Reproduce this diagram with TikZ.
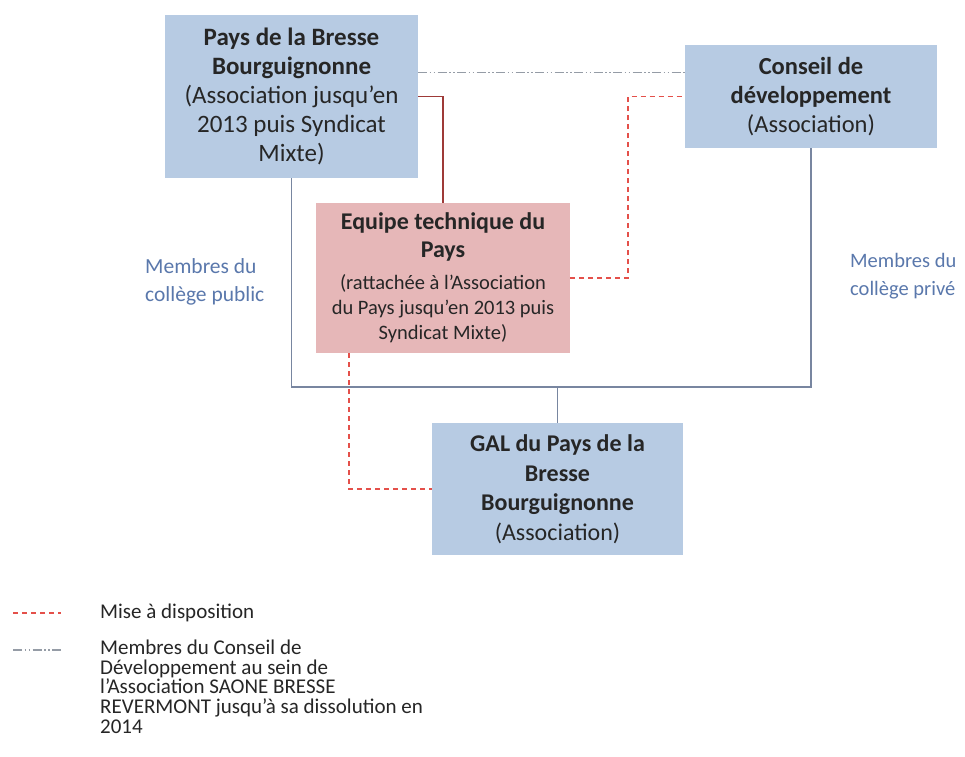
\documentclass[tikz,border=0pt]{standalone}
\usepackage{fontspec}
\setmainfont{Carlito}
\usetikzlibrary{calc}
\definecolor{boxblue}{HTML}{B7CBE3}
\definecolor{boxpink}{HTML}{E6B7B8}
\definecolor{txtdark}{HTML}{262626}
\definecolor{lblblue}{HTML}{5A78AC}
\definecolor{busgray}{HTML}{7886A0}
\definecolor{darkred}{HTML}{9E3A38}
\definecolor{dashred}{HTML}{E4504A}
\definecolor{ddgray}{HTML}{959CA6}
\tikzset{
  bluebox/.style={fill=boxblue, draw=none, inner sep=0pt, align=center, text=txtdark},
  pinkbox/.style={fill=boxpink, draw=none, inner sep=0pt, align=center, text=txtdark},
  busline/.style={draw=busgray, line width=1.4pt},
  redline/.style={draw=darkred, line width=1.4pt},
  reddash/.style={draw=dashred, line width=1.8pt, dash pattern=on 5pt off 4pt},
  ddline/.style={draw=ddgray, line width=1.4pt, dash pattern=on 9pt off 2.5pt on 1.5pt off 2.5pt on 1.5pt off 2.5pt},
  sidelabel/.style={anchor=west, align=left, text=lblblue, inner sep=0pt,
     font=\fontsize{21.5pt}{28.5pt}\selectfont},
  legtext/.style={anchor=west, align=left, text=txtdark, inner sep=0pt,
     font=\fontsize{21pt}{19.6pt}\selectfont}
}
\begin{document}
\begin{tikzpicture}[x=1pt,y=-1pt]
\fill[white] (0,0) rectangle (965,756);
\useasboundingbox (0,0) rectangle (965,756);

\node[bluebox, minimum width=253pt, minimum height=163pt,
      font=\fontsize{25pt}{29pt}\selectfont] (pays) at (291.5,96.5)
  {\textbf{Pays de la Bresse}\\ \textbf{Bourguignonne}\\ (Association jusqu'en\\ 2013 puis Syndicat\\ Mixte)};
\node[bluebox, minimum width=252pt, minimum height=103pt,
      font=\fontsize{24.5pt}{29pt}\selectfont] (conseil) at (811,96.5)
  {\textbf{Conseil de}\\ \textbf{développement}\\ (Association)};
\node[pinkbox, minimum width=254pt, minimum height=150pt,
      font=\fontsize{20.5pt}{25pt}\selectfont] (equipe) at (443,278)
  {{\fontsize{24pt}{28pt}\selectfont\bfseries Equipe technique du}\\[3pt]
   {\fontsize{24pt}{28pt}\selectfont\bfseries Pays}\\[7pt]
   (rattachée à l'Association\\
   du Pays jusqu'en 2013 puis\\
   Syndicat Mixte)};
\node[bluebox, minimum width=251pt, minimum height=132pt,
      font=\fontsize{24pt}{29.5pt}\selectfont] (gal) at (557.5,489)
  {\textbf{GAL du Pays de la}\\ \textbf{Bresse}\\ \textbf{Bourguignonne}\\ (Association)};

\node[sidelabel] (lpub) at (145,282) {Membres du\\ collège public};
\node[sidelabel, font=\fontsize{20.5pt}{28pt}\selectfont] (lpriv) at (850,276) {Membres du\\ collège privé};

% bus
\coordinate (bus) at (0,387);
\draw[busline] (pays.south) |- (bus -| conseil.south) -- (conseil.south);
\draw[busline] (gal.north) -- (gal.north |- bus);

% red solid
\draw[redline] (pays.east) -| (equipe.north);
% red dashed
\coordinate (rdx) at ($(equipe.east)+(58,0)$);
\draw[reddash] (equipe.east) -- (rdx) |- (conseil.west);
\coordinate (rdb) at ($(equipe.south)+(-94,0)$);
\draw[reddash] (rdb) |- (gal.west);
% dash-dot
\coordinate (dd) at ($(pays.east)+(0,-24)$);
\draw[ddline] (dd) -- (dd -| conseil.west);

% legend
\coordinate (l1a) at (13,613); \coordinate (l1b) at (61,613);
\coordinate (l2a) at (13,650); \coordinate (l2b) at (61,650);
\draw[reddash] (l1a) -- (l1b);
\draw[ddline] (l2a) -- (l2b);
\node[legtext] (leg1) at (100,613) {Mise à disposition};
\node[legtext, anchor=north west] (leg2) at (100,640)
  {Membres du Conseil de\\ Développement au sein de\\ l'Association SAONE BRESSE\\ REVERMONT jusqu'à sa dissolution en\\ 2014};
\end{tikzpicture}
\end{document}
